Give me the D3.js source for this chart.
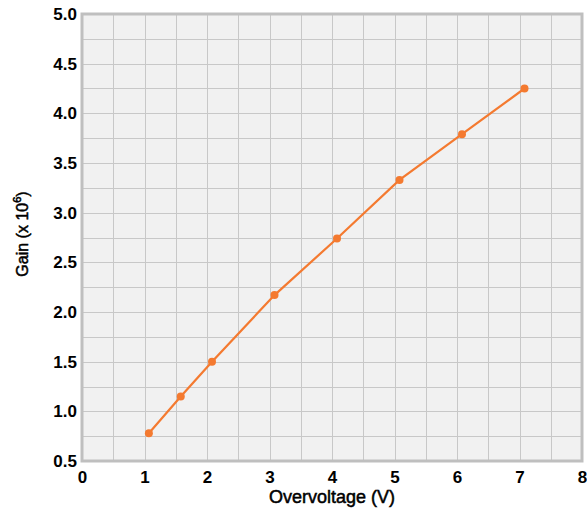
<!DOCTYPE html>
<html>
<head>
<meta charset="utf-8">
<script src="https://cdn.jsdelivr.net/npm/d3@7"></script>
<style>
  body { margin: 0; background: #fff; }
  svg text { font-family: "Liberation Sans", Arial, sans-serif; }
</style>
</head>
<body>
<div id="chart"></div>
<script>
const overvoltage = [1.07, 1.58, 2.08, 3.08, 4.08, 5.08, 6.08, 7.08],
  gain = [0.78, 1.15, 1.50, 2.17, 2.74, 3.33, 3.79, 4.25],
  xTicks = [0, 1, 2, 3, 4, 5, 6, 7, 8],
  yTicks = [0.5, 1.0, 1.5, 2.0, 2.5, 3.0, 3.5, 4.0, 4.5, 5.0];

const WIDTH = 587,
  HEIGHT = 509,
  margin = { top: 14, right: 5, bottom: 48, left: 82 },
  LINE_COLOR = "#f47a30";

const svg = d3.select("#chart").append("svg")
  .attr("width", WIDTH)
  .attr("height", HEIGHT);

const x = d3.scaleLinear().domain([0, 8]).range([margin.left, WIDTH - margin.right]),
  y = d3.scaleLinear().domain([0.5, 5]).range([HEIGHT - margin.bottom, margin.top]);

// plot background
svg.append("rect")
  .attr("x", x(0)).attr("y", y(5))
  .attr("width", x(8) - x(0)).attr("height", y(0.5) - y(5))
  .attr("fill", "#f1f1f1");

// grid
const grid = svg.append("g").attr("stroke", "#c8c8c8").attr("stroke-width", 1);
grid.selectAll("line.v")
  .data(d3.range(0.5, 8, 0.5))
  .enter().append("line")
  .attr("x1", d => Math.round(x(d)) + 0.5).attr("x2", d => Math.round(x(d)) + 0.5)
  .attr("y1", y(5)).attr("y2", y(0.5));
grid.selectAll("line.h")
  .data(d3.range(0.75, 5, 0.25))
  .enter().append("line")
  .attr("y1", d => Math.round(y(d)) + 0.5).attr("y2", d => Math.round(y(d)) + 0.5)
  .attr("x1", x(0)).attr("x2", x(8));

// frame
svg.append("rect")
  .attr("x", x(0)).attr("y", y(5))
  .attr("width", x(8) - x(0)).attr("height", y(0.5) - y(5))
  .attr("fill", "none")
  .attr("stroke", "#bfbfbf")
  .attr("stroke-width", 3);

// axes
const xAxis = svg.append("g")
  .attr("transform", `translate(0,${y(0.5)})`)
  .call(d3.axisBottom(x).tickValues(xTicks).tickFormat(d3.format("d")).tickSize(0).tickPadding(10));
const yAxis = svg.append("g")
  .attr("transform", `translate(${x(0)},0)`)
  .call(d3.axisLeft(y).tickValues(yTicks).tickFormat(d3.format(".1f")).tickSize(0).tickPadding(5));

[xAxis, yAxis].forEach(a => {
  a.select(".domain").remove();
  a.selectAll("text")
    .attr("fill", "#000")
    .attr("font-size", 17)
    .attr("font-weight", "bold");
});

// line + points
const line = d3.line()
  .x((d, i) => x(overvoltage[i]))
  .y(d => y(d));

svg.append("path")
  .datum(gain)
  .attr("d", line)
  .attr("fill", "none")
  .attr("stroke", LINE_COLOR)
  .attr("stroke-width", 2.2);

svg.append("g")
  .selectAll("circle")
  .data(gain)
  .enter().append("circle")
  .attr("cx", (d, i) => x(overvoltage[i]))
  .attr("cy", d => y(d))
  .attr("r", 4)
  .attr("fill", LINE_COLOR);

// axis titles
svg.append("text")
  .attr("x", (x(0) + x(8)) / 2)
  .attr("y", 503)
  .attr("text-anchor", "middle")
  .attr("font-size", 18)
  .attr("stroke", "#000")
  .attr("stroke-width", 0.5)
  .text("Overvoltage (V)");

const yTitle = svg.append("text")
  .attr("transform", `translate(28,234) rotate(-90)`)
  .attr("text-anchor", "middle")
  .attr("font-size", 16)
  .attr("stroke", "#000")
  .attr("stroke-width", 0.5);
yTitle.append("tspan").text("Gain (x 10");
yTitle.append("tspan").attr("dy", -7).attr("font-size", 11).text("6");
yTitle.append("tspan").attr("dy", 7).text(")");
</script>
</body>
</html>
